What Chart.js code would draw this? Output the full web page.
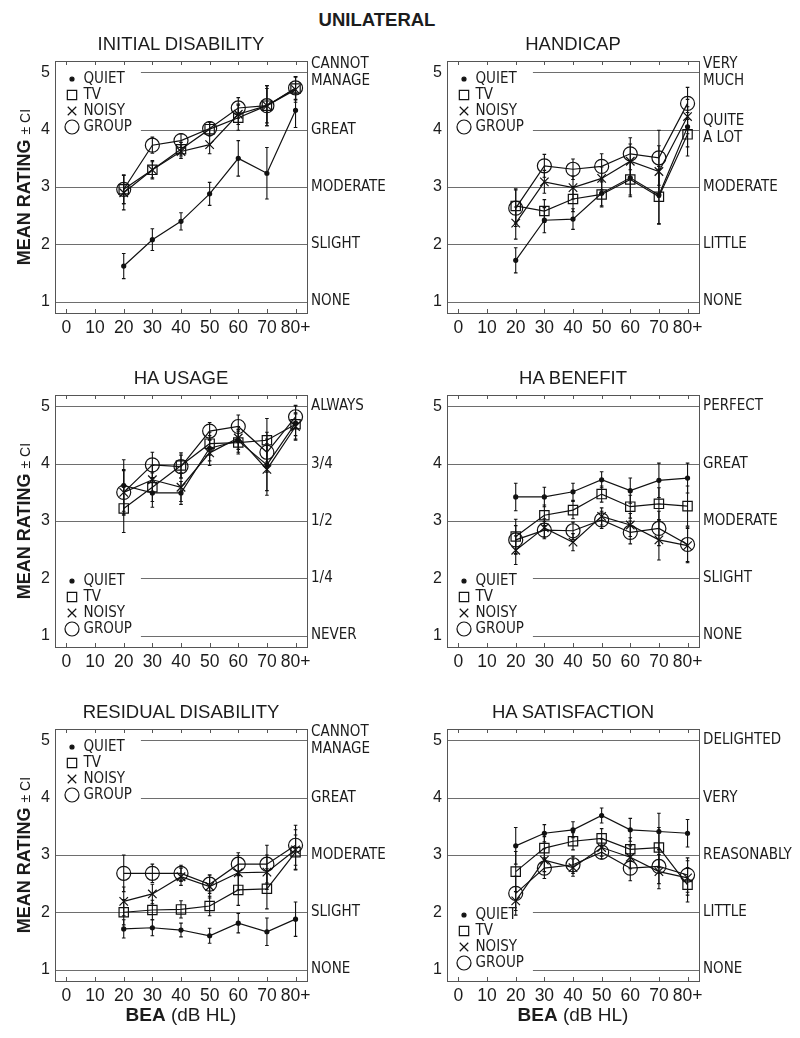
<!DOCTYPE html>
<html>
<head>
<meta charset="utf-8">
<script src="https://cdn.jsdelivr.net/npm/chart.js@4.4.1/dist/chart.umd.min.js"></script>
<style>
  body { margin: 0; background: #fff; width: 800px; height: 1038px; position: relative; overflow: hidden;
         font-family: 'Liberation Sans', Arial, sans-serif; color: #1c1c1c; }
  .panel { position: absolute; }
  .ptitle { position: absolute; width: 252px; text-align: center; font-size: 18.5px; line-height: 20px; }
  .ylab { position: absolute; width: 220px; height: 20px; line-height: 20px; text-align: center;
          transform: rotate(-90deg); white-space: nowrap; font-size: 18px; }
  .xlab { position: absolute; width: 252px; text-align: center; font-size: 19px; line-height: 22px; }
  #main { position: absolute; left: 277px; width: 200px; top: 9px; text-align: center; font-weight: bold; font-size: 18.5px; line-height: 22px; }
</style>
</head>
<body>
<div id="main">UNILATERAL</div>
<div id="wrap"></div>
<script>
// x categories (BEA, dB HL) and axis ticks
const bea = [20, 30, 40, 50, 60, 70, 80];
const xTickVals = [0, 10, 20, 30, 40, 50, 60, 70, 80];
const xTickLabels = ['0', '10', '20', '30', '40', '50', '60', '70', '80+'];
const yTickVals = [1, 2, 3, 4, 5];
const seriesNames = ['QUIET', 'TV', 'NOISY', 'GROUP'];

// rows: QUIET, TV, NOISY, GROUP
const initialMeans = [
  [1.62, 2.08, 2.40, 2.88, 3.50, 3.24, 4.34],
  [2.96, 3.30, 3.66, 4.01, 4.21, 4.42, 4.72],
  [2.90, 3.30, 3.62, 3.74, 4.27, 4.42, 4.70],
  [2.96, 3.73, 3.81, 4.02, 4.38, 4.42, 4.73]
];
const initialCi = [
  [0.22, 0.19, 0.15, 0.20, 0.31, 0.45, 0.30],
  [0.25, 0.16, 0.12, 0.12, 0.22, 0.35, 0.20],
  [0.30, 0.14, 0.12, 0.16, 0.18, 0.30, 0.22],
  [0.25, 0.14, 0.12, 0.12, 0.18, 0.35, 0.20]
];
const initialScale = [['NONE'], ['SLIGHT'], ['MODERATE'], ['GREAT'], ['CANNOT', 'MANAGE']];

const handicapMeans = [
  [1.72, 2.42, 2.44, 2.89, 3.16, 2.86, 4.05],
  [2.67, 2.58, 2.79, 2.87, 3.13, 2.83, 3.92],
  [2.37, 3.09, 2.99, 3.15, 3.45, 3.27, 4.23],
  [2.63, 3.37, 3.31, 3.36, 3.58, 3.51, 4.46]
];
const handicapCi = [
  [0.22, 0.22, 0.18, 0.22, 0.30, 0.50, 0.35],
  [0.30, 0.20, 0.22, 0.22, 0.30, 0.48, 0.38],
  [0.28, 0.20, 0.20, 0.20, 0.30, 0.45, 0.30],
  [0.32, 0.20, 0.18, 0.22, 0.28, 0.48, 0.28]
];
const handicapScale = [['NONE'], ['LITTLE'], ['MODERATE'], ['QUITE', 'A LOT'], ['VERY', 'MUCH']];

const usageMeans = [
  [3.62, 3.49, 3.49, 4.27, 4.40, 3.98, 4.71],
  [3.22, 3.59, 3.97, 4.35, 4.37, 4.41, 4.69],
  [3.50, 3.72, 3.59, 4.19, 4.45, 3.90, 4.65],
  [3.50, 3.98, 3.95, 4.57, 4.65, 4.20, 4.82]
];
const usageCi = [
  [0.45, 0.25, 0.20, 0.22, 0.20, 0.45, 0.30],
  [0.42, 0.25, 0.22, 0.20, 0.20, 0.38, 0.20],
  [0.40, 0.25, 0.25, 0.22, 0.20, 0.45, 0.22],
  [0.38, 0.22, 0.20, 0.15, 0.20, 0.35, 0.20]
];
const usageScale = [['NEVER'], ['1/4'], ['1/2'], ['3/4'], ['ALWAYS']];

const benefitMeans = [
  [3.42, 3.42, 3.51, 3.72, 3.53, 3.71, 3.75],
  [2.73, 3.10, 3.19, 3.47, 3.25, 3.30, 3.26],
  [2.49, 2.88, 2.63, 3.08, 2.93, 2.67, 2.57],
  [2.67, 2.84, 2.83, 3.02, 2.80, 2.87, 2.59]
];
const benefitCi = [
  [0.24, 0.17, 0.15, 0.14, 0.22, 0.30, 0.26],
  [0.30, 0.18, 0.15, 0.14, 0.20, 0.28, 0.35],
  [0.25, 0.16, 0.15, 0.15, 0.20, 0.35, 0.30],
  [0.25, 0.15, 0.15, 0.15, 0.20, 0.30, 0.30]
];
const benefitScale = [['NONE'], ['SLIGHT'], ['MODERATE'], ['GREAT'], ['PERFECT']];

const residualMeans = [
  [1.71, 1.73, 1.69, 1.59, 1.81, 1.66, 1.88],
  [2.00, 2.04, 2.05, 2.11, 2.39, 2.41, 3.05],
  [2.19, 2.32, 2.62, 2.45, 2.69, 2.70, 3.09],
  [2.68, 2.68, 2.68, 2.49, 2.84, 2.84, 3.17]
];
const residualCi = [
  [0.16, 0.14, 0.12, 0.13, 0.17, 0.24, 0.30],
  [0.22, 0.17, 0.15, 0.17, 0.27, 0.35, 0.30],
  [0.25, 0.17, 0.15, 0.20, 0.30, 0.30, 0.35],
  [0.32, 0.16, 0.14, 0.16, 0.20, 0.33, 0.35]
];
const residualScale = [['NONE'], ['SLIGHT'], ['MODERATE'], ['GREAT'], ['CANNOT', 'MANAGE']];

const satisfactionMeans = [
  [3.16, 3.38, 3.44, 3.69, 3.44, 3.41, 3.38],
  [2.71, 3.12, 3.24, 3.29, 3.10, 3.13, 2.48],
  [2.20, 2.91, 2.78, 3.13, 2.96, 2.71, 2.60],
  [2.33, 2.77, 2.83, 3.05, 2.77, 2.80, 2.65]
];
const satisfactionCi = [
  [0.32, 0.15, 0.14, 0.13, 0.20, 0.32, 0.24],
  [0.35, 0.20, 0.15, 0.17, 0.20, 0.35, 0.30],
  [0.25, 0.20, 0.15, 0.15, 0.20, 0.30, 0.30],
  [0.30, 0.18, 0.15, 0.12, 0.22, 0.30, 0.30]
];
const satisfactionScale = [['NONE'], ['LITTLE'], ['REASONABLY'], ['VERY'], ['DELIGHTED']];

// layout
const boxW = 252, boxH = 252;
const colLeft = [55, 447];
const rowTop = [61, 395, 729];
const padL = 45, padT = 10, padR = 105, padB = 30;
const ink = '#111';
const FONT = "'Liberation Sans', Arial, sans-serif";
const NARROW = "'Liberation Sans Narrow', 'DejaVu Sans Condensed', 'Liberation Sans', sans-serif";

const markers = [
  { style: 'circle', r: 2, fill: ink },
  { style: 'rect', r: 6.6, fill: 'rgba(0,0,0,0)' },
  { style: 'crossRot', r: 6, fill: 'rgba(0,0,0,0)' },
  { style: 'circle', r: 7, fill: 'rgba(0,0,0,0)' }
];

const panels = [
  { title: 'INITIAL DISABILITY', means: initialMeans, ci: initialCi, scale: initialScale, legend: 'top', col: 0, row: 0 },
  { title: 'HANDICAP', means: handicapMeans, ci: handicapCi, scale: handicapScale, legend: 'top', col: 1, row: 0 },
  { title: 'HA USAGE', means: usageMeans, ci: usageCi, scale: usageScale, legend: 'bottom', col: 0, row: 1 },
  { title: 'HA BENEFIT', means: benefitMeans, ci: benefitCi, scale: benefitScale, legend: 'bottom', col: 1, row: 1 },
  { title: 'RESIDUAL DISABILITY', means: residualMeans, ci: residualCi, scale: residualScale, legend: 'top', col: 0, row: 2 },
  { title: 'HA SATISFACTION', means: satisfactionMeans, ci: satisfactionCi, scale: satisfactionScale, legend: 'bottom', col: 1, row: 2 }
];

function drawMarker(ctx, m, x, y) {
  ctx.save();
  ctx.strokeStyle = ink;
  ctx.fillStyle = m.fill;
  ctx.lineWidth = 1.2;
  ctx.beginPath();
  if (m.style === 'rect') {
    const h = m.r * Math.SQRT1_2;
    ctx.rect(x - h, y - h, 2 * h, 2 * h);
    ctx.stroke();
  } else if (m.style === 'crossRot') {
    const h = m.r * Math.SQRT1_2;
    ctx.moveTo(x - h, y - h); ctx.lineTo(x + h, y + h);
    ctx.moveTo(x - h, y + h); ctx.lineTo(x + h, y - h);
    ctx.stroke();
  } else {
    ctx.arc(x, y, m.r, 0, Math.PI * 2);
    ctx.fill();
    ctx.stroke();
  }
  ctx.restore();
}

// grid lines, frame, tick marks, error bars, right-hand scale words, legend
const framePlugin = {
  id: 'frame',
  beforeDatasetsDraw(chart) {
    const { ctx, chartArea: a, scales: { x, y } } = chart;
    const p = chart.options.plugins.frame;
    ctx.save();
    ctx.lineWidth = 1;
    ctx.strokeStyle = '#6e6e6e';
    yTickVals.forEach(v => {
      const py = Math.round(y.getPixelForValue(v)) + 0.5;
      const gapped = p.legend === 'top' ? v >= 4 : v <= 2;
      const x0 = gapped ? x.getPixelForValue(26) : a.left;
      ctx.beginPath(); ctx.moveTo(x0, py); ctx.lineTo(a.right, py); ctx.stroke();
    });
    ctx.strokeStyle = '#555';
    ctx.strokeRect(Math.round(a.left) + 0.5, Math.round(a.top) + 0.5, Math.round(a.right - a.left), Math.round(a.bottom - a.top));
    xTickVals.forEach(v => {
      const px = Math.round(x.getPixelForValue(v)) + 0.5;
      ctx.beginPath();
      ctx.moveTo(px, a.top); ctx.lineTo(px, a.top + 4);
      ctx.moveTo(px, a.bottom); ctx.lineTo(px, a.bottom - 4);
      ctx.stroke();
    });
    // confidence intervals
    ctx.strokeStyle = ink;
    ctx.lineWidth = 1.1;
    chart.data.datasets.forEach((ds, d) => {
      chart.getDatasetMeta(d).data.forEach((pt, i) => {
        const v = ds.data[i].y, c = ds.ci[i];
        const hi = y.getPixelForValue(v + c), lo = y.getPixelForValue(v - c);
        ctx.beginPath();
        ctx.moveTo(pt.x, hi); ctx.lineTo(pt.x, lo);
        ctx.moveTo(pt.x - 1.8, hi); ctx.lineTo(pt.x + 1.8, hi);
        ctx.moveTo(pt.x - 1.8, lo); ctx.lineTo(pt.x + 1.8, lo);
        ctx.stroke();
      });
    });
    ctx.restore();
  },
  afterDraw(chart) {
    const { ctx, chartArea: a, scales: { y } } = chart;
    const p = chart.options.plugins.frame;
    ctx.save();
    ctx.fillStyle = '#1c1c1c';
    ctx.font = '15px ' + NARROW;
    ctx.textAlign = 'left';
    ctx.textBaseline = 'middle';
    p.scale.forEach((lines, i) => {
      const py = y.getPixelForValue(yTickVals[i]);
      if (lines.length === 1) ctx.fillText(lines[0], a.right + 4, py);
      else {
        ctx.fillText(lines[0], a.right + 4, py - 8.7);
        ctx.fillText(lines[1], a.right + 4, py + 8.7);
      }
    });
    const first = p.legend === 'top' ? a.top + 18 : a.bottom - 66;
    seriesNames.forEach((name, s) => {
      const ly = first + 16 * s;
      drawMarker(ctx, markers[s], a.left + 17, ly);
      ctx.fillStyle = '#1c1c1c';
      ctx.fillText(name, a.left + 28.5, ly + 0.5);
    });
    ctx.restore();
  }
};

const wrap = document.getElementById('wrap');
panels.forEach(p => {
  const left = colLeft[p.col], top = rowTop[p.row];
  const div = document.createElement('div');
  div.className = 'panel';
  div.style.left = (left - padL) + 'px';
  div.style.top = (top - padT) + 'px';
  const canvas = document.createElement('canvas');
  canvas.width = padL + boxW + padR;
  canvas.height = padT + boxH + padB;
  div.appendChild(canvas);
  wrap.appendChild(div);

  const t = document.createElement('div');
  t.className = 'ptitle';
  t.style.left = left + 'px';
  t.style.top = (top - 27) + 'px';
  t.textContent = p.title;
  wrap.appendChild(t);

  if (p.col === 0) {
    const yl = document.createElement('div');
    yl.className = 'ylab';
    yl.style.left = (24 - 110) + 'px';
    yl.style.top = (top + boxH / 2 - 10) + 'px';
    yl.innerHTML = '<b>MEAN RATING</b> <span style="font-size:14px">± CI</span>';
    wrap.appendChild(yl);
  }
  if (p.row === 2) {
    const xl = document.createElement('div');
    xl.className = 'xlab';
    xl.style.left = left + 'px';
    xl.style.top = '1004px';
    xl.innerHTML = '<b>BEA</b> (dB HL)';
    wrap.appendChild(xl);
  }

  new Chart(canvas, {
    type: 'line',
    data: {
      datasets: seriesNames.map((name, s) => ({
        label: name,
        data: bea.map((x, i) => ({ x, y: p.means[s][i] })),
        ci: p.ci[s],
        borderColor: ink,
        borderWidth: 1.2,
        pointStyle: markers[s].style,
        pointRadius: markers[s].r,
        pointBorderColor: ink,
        pointBackgroundColor: markers[s].fill,
        pointBorderWidth: 1.2,
        tension: 0,
        fill: false
      }))
    },
    options: {
      responsive: false,
      animation: false,
      devicePixelRatio: 1,
      layout: { padding: { top: padT, right: padR, left: 0, bottom: 0 } },
      plugins: {
        legend: { display: false },
        tooltip: { enabled: false },
        frame: { legend: p.legend, scale: p.scale }
      },
      scales: {
        x: {
          type: 'linear', min: -4, max: 84,
          grid: { display: false, drawTicks: false },
          border: { display: false },
          ticks: {
            font: { family: FONT, size: 17.5 }, color: '#1c1c1c', padding: 5, maxRotation: 0, autoSkip: false,
            callback: v => xTickLabels[xTickVals.indexOf(v)]
          },
          afterBuildTicks: s => { s.ticks = xTickVals.map(v => ({ value: v })); },
          afterFit: s => { s.height = padB; s.paddingLeft = 0; s.paddingRight = 0; }
        },
        y: {
          min: 0.8, max: 5.2,
          grid: { display: false, drawTicks: false },
          border: { display: false },
          ticks: { font: { family: FONT, size: 16 }, color: '#1c1c1c', padding: 5 },
          afterBuildTicks: s => { s.ticks = yTickVals.map(v => ({ value: v })); },
          afterFit: s => { s.width = padL; s.paddingTop = 0; s.paddingBottom = 0; }
        }
      }
    },
    plugins: [framePlugin]
  });
});
</script>
</body>
</html>
